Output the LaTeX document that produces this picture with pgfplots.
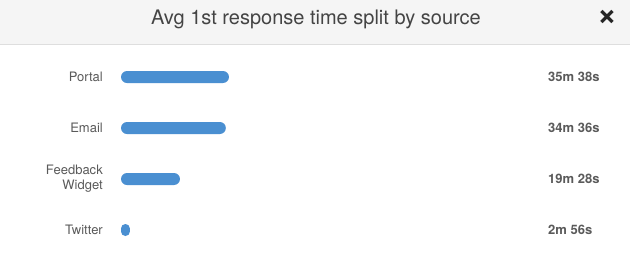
\documentclass[border=0pt]{standalone}
\usepackage{pgfplots}
\pgfplotsset{compat=1.18}
\usepackage{fontspec}
\setmainfont{TeX Gyre Heros}
\definecolor{barblue}{HTML}{4A8FD1}
\definecolor{headgray}{HTML}{F5F5F5}
\definecolor{headline}{HTML}{DEDEDE}
\definecolor{titlegray}{HTML}{444444}
\definecolor{labelgray}{HTML}{5A5A5A}
\begin{document}
\begin{tikzpicture}[x=1bp,y=1bp]
\useasboundingbox (0,0) rectangle (630,256);
\fill[white] (0,0) rectangle (630,256);
% header band
\fill[headgray] (0,212) rectangle (630,256);
\draw[headline, line width=1bp] (0,212) -- (630,212);
\node[font=\fontsize{20bp}{24bp}\selectfont, text=titlegray, anchor=base] at (316,232) {Avg 1st response time split by source};
\node[font=\bfseries\fontsize{34bp}{38bp}\selectfont, text=black!85, inner sep=0pt, anchor=base] at (607,230.5) {×};
% response times in seconds
\begin{axis}[
  scale only axis, width=427bp, height=204bp,
  at={(121bp,0.5bp)}, anchor=south west,
  xmin=0, xmax=8455, ymin=-0.5, ymax=3.5,
  axis line style={draw=none},
  xtick=\empty, ytick={0,1,2,3},
  yticklabels={Twitter,{Feedback\\Widget},Email,Portal},
  major tick length=0pt,
  yticklabel style={align=right, font=\fontsize{13bp}{15bp}\selectfont,
    text=labelgray, inner sep=0pt, xshift=-18bp},
  xbar, bar width=12bp, bar shift=0pt, clip=false,
]
\addplot[fill=barblue, draw=none, rounded corners=6bp]
  coordinates {(1168,1) (2076,2) (2138,3)};
% the shortest bar gets a smaller corner radius so it stays an oval
\addplot[fill=barblue, draw=none, rounded corners=4.4bp]
  coordinates {(176,0)};
\begin{scope}[every node/.style={anchor=west, inner sep=0pt,
    font=\bfseries\fontsize{13bp}{15bp}\selectfont, text=labelgray}]
\node at (axis cs:8455,3) {35m 38s};
\node at (axis cs:8455,2) {34m 36s};
\node at (axis cs:8455,1) {19m 28s};
\node at (axis cs:8455,0) {2m 56s};
\end{scope}
\end{axis}
\end{tikzpicture}
\end{document}
